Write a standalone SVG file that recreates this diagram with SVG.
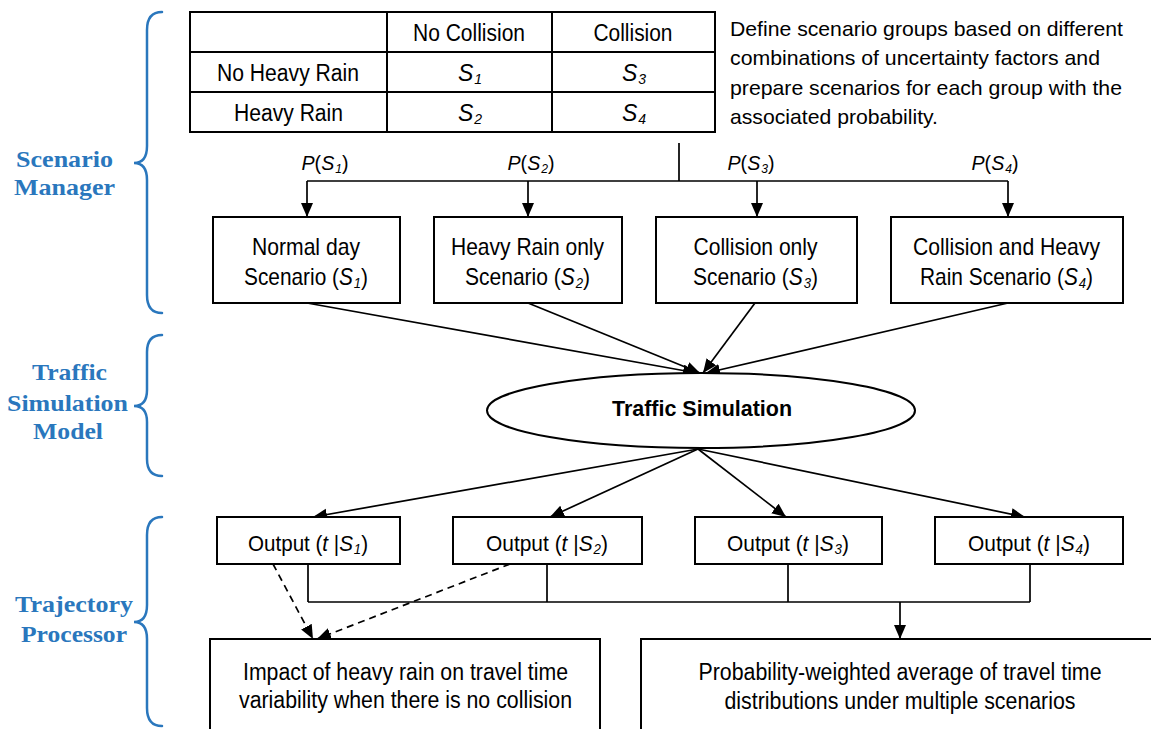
<svg xmlns="http://www.w3.org/2000/svg" width="1151" height="729" viewBox="0 0 1151 729">
<defs>
<marker id="ah" markerUnits="userSpaceOnUse" markerWidth="15" markerHeight="13" refX="14" refY="6" orient="auto">
<path d="M0,0 L14,6 L0,12 z" fill="#000"/>
</marker>
<style>
.t{font-family:"Liberation Sans",Arial,sans-serif;fill:#000;}
.m{text-anchor:middle;}
.i{font-style:italic;}
.lbl{font-family:"Liberation Serif","Times New Roman",serif;font-weight:bold;fill:#2a77bd;font-size:24px;text-anchor:middle;}
.box{fill:#fff;stroke:#000;stroke-width:2;}
.ln{fill:none;stroke:#000;stroke-width:1.7;}
.ar{fill:none;stroke:#000;stroke-width:1.7;marker-end:url(#ah);}
.da{fill:none;stroke:#000;stroke-width:1.7;stroke-dasharray:7,5;marker-end:url(#ah);}
.br{fill:none;stroke:#2a77bd;stroke-width:2.5;stroke-linecap:round;}
</style>
</defs>
<rect width="1151" height="729" fill="#fff"/>

<g id="braces">
<path class="br" d="M162,12 Q147,12 147,30 L147,146 Q147,163 134,163 Q147,163 147,180 L147,295 Q147,313 162,313"/>
<path class="br" d="M162,335 Q147,335 147,352 L147,390 Q147,406 134,406 Q147,406 147,422 L147,459 Q147,476 162,476"/>
<path class="br" d="M162,517 Q147,517 147,535 L147,605 Q147,622 134,622 Q147,622 147,639 L147,708 Q147,726 162,726"/>
</g>
<g id="labels">
<text class="lbl" x="64.5" y="167" textLength="97" lengthAdjust="spacingAndGlyphs">Scenario</text>
<text class="lbl" x="64.5" y="195" textLength="101" lengthAdjust="spacingAndGlyphs">Manager</text>
<text class="lbl" x="69.5" y="380" textLength="75" lengthAdjust="spacingAndGlyphs">Traffic</text>
<text class="lbl" x="67.5" y="411" textLength="121" lengthAdjust="spacingAndGlyphs">Simulation</text>
<text class="lbl" x="68" y="439" textLength="70" lengthAdjust="spacingAndGlyphs">Model</text>
<text class="lbl" x="74" y="612" textLength="118" lengthAdjust="spacingAndGlyphs">Trajectory</text>
<text class="lbl" x="74" y="642" textLength="106" lengthAdjust="spacingAndGlyphs">Processor</text>
</g>

<g id="table">
<rect x="190" y="12" width="525" height="120" fill="#fff" stroke="#000" stroke-width="2"/>
<path class="ln" style="stroke-width:2" d="M387,12 V132 M552,12 V132 M190,52 H715 M190,92 H715"/>
<g class="t m" font-size="23">
<text x="469" y="41" textLength="112" lengthAdjust="spacingAndGlyphs">No Collision</text>
<text x="633" y="41" textLength="79" lengthAdjust="spacingAndGlyphs">Collision</text>
<text x="288" y="81" textLength="142" lengthAdjust="spacingAndGlyphs">No Heavy Rain</text>
<text x="288.5" y="121" textLength="109" lengthAdjust="spacingAndGlyphs">Heavy Rain</text>
<text x="470" y="81"><tspan class="i">S</tspan><tspan class="i" font-size="14" dx="1" dy="3">1</tspan></text>
<text x="634" y="81"><tspan class="i">S</tspan><tspan class="i" font-size="14" dx="1" dy="3">3</tspan></text>
<text x="470" y="121"><tspan class="i">S</tspan><tspan class="i" font-size="14" dx="1" dy="3">2</tspan></text>
<text x="634" y="121"><tspan class="i">S</tspan><tspan class="i" font-size="14" dx="1" dy="3">4</tspan></text>
</g>
</g>

<g id="description" class="t" font-size="21">
<text x="730" y="36" textLength="393" lengthAdjust="spacingAndGlyphs">Define scenario groups based on different</text>
<text x="730" y="65" textLength="370" lengthAdjust="spacingAndGlyphs">combinations of uncertainty factors and</text>
<text x="730" y="95" textLength="392" lengthAdjust="spacingAndGlyphs">prepare scenarios for each group with the</text>
<text x="730" y="124" textLength="208" lengthAdjust="spacingAndGlyphs">associated probability.</text>
</g>

<g id="connectors">
<path class="ln" d="M679,143 V181 M307,181 H1008"/>
<path class="ar" d="M307,181 V217"/>
<path class="ar" d="M528,181 V217"/>
<path class="ar" d="M757,181 V217"/>
<path class="ar" d="M1008,181 V217"/>
<path class="ar" d="M307,303 L697,373"/>
<path class="ar" d="M528,303 L700,373"/>
<path class="ar" d="M755,303 L703,373"/>
<path class="ar" d="M1008,303 L706,373"/>
<path class="ar" d="M698,449 L313,517"/>
<path class="ar" d="M698,449 L550,517"/>
<path class="ar" d="M698,449 L786,517"/>
<path class="ar" d="M698,449 L1025,517"/>
<path class="ln" d="M308,564 V602 M547,564 V602 M788,564 V602 M1030,564 V602 M308,602 H1030"/>
<path class="ar" d="M900,602 V639"/>
<path class="da" d="M273,564 L313,639"/>
<path class="da" d="M510,564 L317,639"/>
</g>

<g id="probabilities" class="t m" font-size="21">
<text x="325" y="170" textLength="47" lengthAdjust="spacingAndGlyphs"><tspan class="i">P</tspan>(<tspan class="i">S</tspan><tspan class="i" font-size="13" dx="1" dy="3">1</tspan><tspan dy="-3">)</tspan></text>
<text x="531" y="170" textLength="47" lengthAdjust="spacingAndGlyphs"><tspan class="i">P</tspan>(<tspan class="i">S</tspan><tspan class="i" font-size="13" dx="1" dy="3">2</tspan><tspan dy="-3">)</tspan></text>
<text x="751" y="170" textLength="47" lengthAdjust="spacingAndGlyphs"><tspan class="i">P</tspan>(<tspan class="i">S</tspan><tspan class="i" font-size="13" dx="1" dy="3">3</tspan><tspan dy="-3">)</tspan></text>
<text x="995" y="170" textLength="47" lengthAdjust="spacingAndGlyphs"><tspan class="i">P</tspan>(<tspan class="i">S</tspan><tspan class="i" font-size="13" dx="1" dy="3">4</tspan><tspan dy="-3">)</tspan></text>
</g>

<g id="scenario1">
<rect class="box" x="213" y="217" width="187" height="86"/>
<text class="t m" font-size="24" x="306" y="255" textLength="108" lengthAdjust="spacingAndGlyphs">Normal day</text>
<text class="t m" font-size="24" x="306" y="285" textLength="124" lengthAdjust="spacingAndGlyphs">Scenario (<tspan class="i">S</tspan><tspan class="i" font-size="15" dx="1" dy="3">1</tspan><tspan dy="-3">)</tspan></text>
</g>
<g id="scenario2">
<rect class="box" x="434" y="217" width="188" height="86"/>
<text class="t m" font-size="24" x="527.5" y="255" textLength="153" lengthAdjust="spacingAndGlyphs">Heavy Rain only</text>
<text class="t m" font-size="24" x="527.5" y="285" textLength="125" lengthAdjust="spacingAndGlyphs">Scenario (<tspan class="i">S</tspan><tspan class="i" font-size="15" dx="1" dy="3">2</tspan><tspan dy="-3">)</tspan></text>
</g>
<g id="scenario3">
<rect class="box" x="656" y="217" width="201" height="86"/>
<text class="t m" font-size="24" x="755.5" y="255" textLength="124" lengthAdjust="spacingAndGlyphs">Collision only</text>
<text class="t m" font-size="24" x="755.5" y="285" textLength="125" lengthAdjust="spacingAndGlyphs">Scenario (<tspan class="i">S</tspan><tspan class="i" font-size="15" dx="1" dy="3">3</tspan><tspan dy="-3">)</tspan></text>
</g>
<g id="scenario4">
<rect class="box" x="891" y="217" width="232" height="86"/>
<text class="t m" font-size="24" x="1006.5" y="255" textLength="187" lengthAdjust="spacingAndGlyphs">Collision and Heavy</text>
<text class="t m" font-size="24" x="1006.5" y="285" textLength="173" lengthAdjust="spacingAndGlyphs">Rain Scenario (<tspan class="i">S</tspan><tspan class="i" font-size="15" dx="1" dy="3">4</tspan><tspan dy="-3">)</tspan></text>
</g>

<g id="traffic-simulation">
<ellipse cx="701" cy="410.5" rx="214" ry="37.5" fill="#fff" stroke="#000" stroke-width="2"/>
<text class="t m" font-size="22" font-weight="bold" x="702" y="416" textLength="180" lengthAdjust="spacingAndGlyphs">Traffic Simulation</text>
</g>

<g id="output1">
<rect class="box" x="217" y="517" width="183" height="47"/>
<text class="t m" font-size="22" x="308" y="551" textLength="120" lengthAdjust="spacingAndGlyphs">Output (<tspan class="i">t</tspan> |<tspan class="i">S</tspan><tspan class="i" font-size="14" dx="1" dy="3">1</tspan><tspan dy="-3">)</tspan></text>
</g>
<g id="output2">
<rect class="box" x="453" y="517" width="189" height="47"/>
<text class="t m" font-size="22" x="547" y="551" textLength="122" lengthAdjust="spacingAndGlyphs">Output (<tspan class="i">t</tspan> |<tspan class="i">S</tspan><tspan class="i" font-size="14" dx="1" dy="3">2</tspan><tspan dy="-3">)</tspan></text>
</g>
<g id="output3">
<rect class="box" x="695" y="517" width="187" height="47"/>
<text class="t m" font-size="22" x="788" y="551" textLength="122" lengthAdjust="spacingAndGlyphs">Output (<tspan class="i">t</tspan> |<tspan class="i">S</tspan><tspan class="i" font-size="14" dx="1" dy="3">3</tspan><tspan dy="-3">)</tspan></text>
</g>
<g id="output4">
<rect class="box" x="935" y="517" width="188" height="47"/>
<text class="t m" font-size="22" x="1029" y="551" textLength="122" lengthAdjust="spacingAndGlyphs">Output (<tspan class="i">t</tspan> |<tspan class="i">S</tspan><tspan class="i" font-size="14" dx="1" dy="3">4</tspan><tspan dy="-3">)</tspan></text>
</g>

<g id="impact">
<rect class="box" x="210" y="639" width="390" height="110"/>
<text class="t m" font-size="23" x="405.5" y="680" textLength="325" lengthAdjust="spacingAndGlyphs">Impact of heavy rain on travel time</text>
<text class="t m" font-size="23" x="405.5" y="708" textLength="333" lengthAdjust="spacingAndGlyphs">variability when there is no collision</text>
</g>
<g id="weighted-average">
<rect class="box" x="641" y="639" width="530" height="110"/>
<text class="t m" font-size="23" x="900" y="680" textLength="403" lengthAdjust="spacingAndGlyphs">Probability-weighted average of travel time</text>
<text class="t m" font-size="23" x="900" y="709" textLength="351" lengthAdjust="spacingAndGlyphs">distributions under multiple scenarios</text>
</g>
</svg>
